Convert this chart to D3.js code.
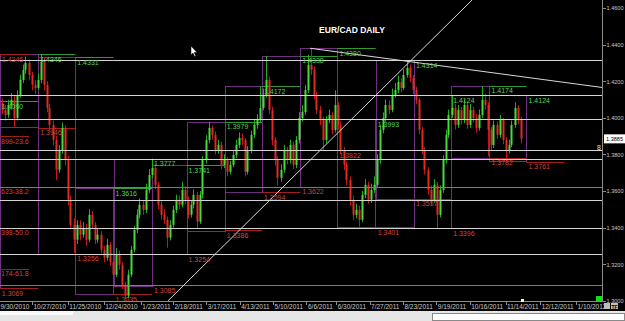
<!DOCTYPE html>
<html>
<head>
<meta charset="utf-8">
<script src="https://cdnjs.cloudflare.com/ajax/libs/d3/7.8.5/d3.min.js"></script>
<style>
  html, body { margin: 0; padding: 0; background: #000; overflow: hidden; }
  svg text { font-family: Arial, "Liberation Sans", sans-serif; }
</style>
</head>
<body>
<svg id="chart" width="625" height="321"></svg>
<script>
/// daily candles (open = previous close)
var firstOpen = 1.4080;
var closes = [
  1.4043, 1.4016, 1.4070, 1.4098, 1.3999, 1.4125, 1.4207, 1.4262, 1.4300, 1.4234,
  1.4180, 1.4163, 1.4207, 1.4306, 1.4180, 1.4054, 1.3961, 1.3879, 1.3716, 1.3824,
  1.3945, 1.3770, 1.3552, 1.3415, 1.3334, 1.3415, 1.3361, 1.3399, 1.3334, 1.3470,
  1.3415, 1.3334, 1.3361, 1.3279, 1.3235, 1.3306, 1.3213, 1.3143, 1.3252, 1.3197,
  1.3088, 1.3028, 1.3143, 1.3279, 1.3388, 1.3470, 1.3525, 1.3497, 1.3606, 1.3688,
  1.3726, 1.3634, 1.3525, 1.3470, 1.3443, 1.3345, 1.3415, 1.3497, 1.3552, 1.3525,
  1.3606, 1.3552, 1.3470, 1.3525, 1.3579, 1.3432, 1.3579, 1.3770, 1.3879, 1.3945,
  1.3907, 1.3824, 1.3852, 1.3743, 1.3770, 1.3705, 1.3743, 1.3797, 1.3852, 1.3890,
  1.3879, 1.3705, 1.3824, 1.3907, 1.3961, 1.3988, 1.4054, 1.4125, 1.4207, 1.4043,
  1.3879, 1.3770, 1.3672, 1.3716, 1.3824, 1.3770, 1.3852, 1.3743, 1.3879, 1.3999,
  1.4032, 1.4152, 1.4289, 1.4262, 1.4125, 1.4043, 1.3988, 1.3879, 1.3988, 1.4016,
  1.3934, 1.4070, 1.3961, 1.3824, 1.3743, 1.3661, 1.3552, 1.3470, 1.3497, 1.3443,
  1.3579, 1.3634, 1.3552, 1.3606, 1.3634, 1.3770, 1.3934, 1.3999, 1.4070, 1.4043,
  1.4125, 1.4152, 1.4196, 1.4163, 1.4234, 1.4273, 1.4218, 1.4152, 1.4098, 1.3934,
  1.3824, 1.3716, 1.3606, 1.3552, 1.3634, 1.3470, 1.3606, 1.3770, 1.3907, 1.4016,
  1.4054, 1.3961, 1.4043, 1.3988, 1.4070, 1.3961, 1.4043, 1.3999, 1.3945, 1.4016,
  1.4098, 1.4070, 1.3934, 1.3852, 1.3961, 1.3907, 1.3988, 1.3879, 1.3824, 1.3852,
  1.3961, 1.4054, 1.3988, 1.3885
];
var highs = [
  1.4105, 1.4070, 1.4098, 1.4135, 1.4120, 1.4150, 1.4235, 1.4290, 1.4335, 1.4318,
  1.4250, 1.4205, 1.4240, 1.4346, 1.4330, 1.4200, 1.4075, 1.3985, 1.3900, 1.3850,
  1.3975, 1.3960, 1.3790, 1.3575, 1.3450, 1.3440, 1.3440, 1.3430, 1.3420, 1.3500,
  1.3490, 1.3430, 1.3395, 1.3380, 1.3300, 1.3340, 1.3320, 1.3230, 1.3290, 1.3275,
  1.3210, 1.3105, 1.3170, 1.3300, 1.3410, 1.3500, 1.3560, 1.3545, 1.3640, 1.3720,
  1.3777, 1.3745, 1.3650, 1.3550, 1.3500, 1.3460, 1.3440, 1.3520, 1.3580, 1.3575,
  1.3650, 1.3625, 1.3570, 1.3550, 1.3610, 1.3595, 1.3600, 1.3790, 1.3905, 1.3979,
  1.3960, 1.3925, 1.3880, 1.3870, 1.3800, 1.3785, 1.3765, 1.3820, 1.3880, 1.3920,
  1.3915, 1.3890, 1.3845, 1.3930, 1.3990, 1.4020, 1.4172, 1.4160, 1.4338, 1.4225,
  1.4060, 1.3895, 1.3790, 1.3745, 1.3850, 1.3840, 1.3880, 1.3870, 1.3900, 1.4030,
  1.4070, 1.4180, 1.4345, 1.4380, 1.4280, 1.4140, 1.4065, 1.4005, 1.4010, 1.4045,
  1.4030, 1.4150, 1.4085, 1.3980, 1.3840, 1.3760, 1.3680, 1.3575, 1.3530, 1.3520,
  1.3600, 1.3665, 1.3650, 1.3640, 1.3680, 1.3800, 1.3960, 1.4030, 1.4100, 1.4095,
  1.4160, 1.4190, 1.4230, 1.4215, 1.4265, 1.4314, 1.4290, 1.4235, 1.4170, 1.4110,
  1.3950, 1.3840, 1.3730, 1.3630, 1.3665, 1.3650, 1.3630, 1.3795, 1.3935, 1.4045,
  1.4124, 1.4075, 1.4070, 1.4060, 1.4100, 1.4085, 1.4075, 1.4060, 1.4020, 1.4045,
  1.4174, 1.4130, 1.4085, 1.3950, 1.3985, 1.3980, 1.4015, 1.4000, 1.3895, 1.3880,
  1.3985, 1.4085, 1.4070, 1.4005
];
var lows = [
  1.4020, 1.3985, 1.4000, 1.4045, 1.3950, 1.3985, 1.4110, 1.4190, 1.4240, 1.4205,
  1.4150, 1.4130, 1.4150, 1.4190, 1.4150, 1.4030, 1.3930, 1.3850, 1.3660, 1.3700,
  1.3805, 1.3740, 1.3520, 1.3390, 1.3262, 1.3310, 1.3330, 1.3345, 1.3300, 1.3320,
  1.3395, 1.3310, 1.3315, 1.3260, 1.3210, 1.3220, 1.3190, 1.3120, 1.3130, 1.3170,
  1.3065, 1.3010, 1.3015, 1.3130, 1.3265, 1.3370, 1.3450, 1.3470, 1.3480, 1.3590,
  1.3670, 1.3610, 1.3500, 1.3445, 1.3420, 1.3290, 1.3330, 1.3400, 1.3480, 1.3500,
  1.3510, 1.3530, 1.3450, 1.3455, 1.3505, 1.3396, 1.3420, 1.3560, 1.3750, 1.3860,
  1.3880, 1.3800, 1.3805, 1.3720, 1.3725, 1.3680, 1.3690, 1.3730, 1.3780, 1.3835,
  1.3850, 1.3680, 1.3690, 1.3805, 1.3890, 1.3940, 1.3970, 1.4040, 1.4110, 1.4020,
  1.3850, 1.3740, 1.3630, 1.3650, 1.3700, 1.3745, 1.3750, 1.3720, 1.3725, 1.3860,
  1.3980, 1.4015, 1.4135, 1.4235, 1.4100, 1.4020, 1.3960, 1.3822, 1.3860, 1.3970,
  1.3910, 1.3920, 1.3935, 1.3800, 1.3715, 1.3630, 1.3520, 1.3440, 1.3450, 1.3405,
  1.3430, 1.3560, 1.3530, 1.3535, 1.3590, 1.3620, 1.3750, 1.3915, 1.3980, 1.4020,
  1.4030, 1.4110, 1.4135, 1.4140, 1.4150, 1.4220, 1.4195, 1.4130, 1.4075, 1.3910,
  1.3800, 1.3690, 1.3580, 1.3520, 1.3535, 1.3396, 1.3455, 1.3590, 1.3750, 1.3890,
  1.4000, 1.3935, 1.3945, 1.3965, 1.3970, 1.3940, 1.3945, 1.3975, 1.3920, 1.3930,
  1.4000, 1.4045, 1.3790, 1.3820, 1.3835, 1.3885, 1.3890, 1.3855, 1.3761, 1.3805,
  1.3840, 1.3945, 1.3965, 1.3860
];

/// monthly ranges (box = month range, lines in next month = previous month high/low)
var monthStarts = ["2010-09-01", "2010-10-01", "2010-11-01", "2010-12-01", "2011-01-01",
                   "2011-02-01", "2011-03-01", "2011-04-01", "2011-05-01", "2011-06-01",
                   "2011-07-01", "2011-08-01", "2011-09-01", "2011-10-01", "2011-11-01",
                   "2011-12-01", "2012-01-01"];
var monthHigh = [1.4090, 1.4346, 1.4331, 1.3616, 1.3777, 1.3741, 1.3979, 1.4172,
                 1.4338, 1.4380, 1.3993, 1.4314, 1.4124, 1.4174, 1.4124];
var monthLow  = [1.3069, 1.3946, 1.3256, 1.3035, 1.3085, 1.3254, 1.3386, 1.3594,
                 1.3622, 1.3822, 1.3401, 1.3557, 1.3396, 1.3782, 1.3761];

/// extra marker at top left
var extraStart = ["2010-10-01"], extraEnd = ["2010-10-25"], extraPrice = [1.4346];

/// support / resistance lines
var srLevels = [1.4314, 1.4124, 1.3993, 1.3822, 1.3776, 1.3552, 1.3396, 1.3256];
var srLevelsDim = [1.3622, 1.3085];

/// fibonacci levels (labels show the tail of the price, as on screen)
var fibPrices = [1.3899, 1.3623, 1.3398, 1.3174];
var fibRatios = ["23.6", "38.2", "50.0", "61.8"];

/// trend lines
var trendFrom = [["2011-02-14", 1.3000], ["2011-06-09", 1.4380]];
var trendTo   = [["2011-10-18", 1.4644], ["2012-02-01", 1.4165]];

/// axes
var dateTicks = ["2010-09-30", "2010-10-27", "2010-11-25", "2010-12-24", "2011-01-23",
                 "2011-02-18", "2011-03-17", "2011-04-13", "2011-05-10", "2011-06-06",
                 "2011-06-30", "2011-07-27", "2011-08-23", "2011-09-19", "2011-10-16",
                 "2011-11-14", "2011-12-12", "2012-01-10"];
var priceTicks = [1.30, 1.32, 1.34, 1.36, 1.38, 1.40, 1.42, 1.44, 1.46];
var lastPrice = 1.3885;
var chartTitle = "EUR/CAD DAILY";

/// setup
var W = 625, H = 321, plotRight = 602, plotBottom = 301;
var parse = d3.timeParse("%Y-%m-%d"),
    fmtDate = d3.timeFormat("%-m/%-d/%Y"),
    fmtPrice = d3.format(".4f");

var svg = d3.select("#chart");
svg.append("rect").attr("width", W).attr("height", H).attr("fill", "#000");

var y = d3.scaleLinear().domain([1.30, 1.46]).range([300.8, 8]);
var xt = d3.scaleTime().domain([parse("2010-10-27"), parse("2012-01-10")]).range([32, 576]);
var xi = d3.scaleLinear().domain([0, closes.length - 1]).range([1.5, 520.5]);

svg.append("clipPath").attr("id", "plotClip")
   .append("rect").attr("x", 0).attr("y", 0).attr("width", plotRight).attr("height", plotBottom);

var plot = svg.append("g").attr("clip-path", "url(#plotClip)");
var px = v => Math.round(v) + 0.5;

// monthly boxes
var boxes = monthHigh.map((h, k) => ({x0: xt(parse(monthStarts[k])), x1: xt(parse(monthStarts[k + 1])),
                                      hi: h, lo: monthLow[k]}));
plot.selectAll(".box").data(boxes).enter().append("rect")
    .attr("class", "box")
    .attr("x", d => px(d.x0)).attr("y", d => px(y(d.hi)))
    .attr("width", d => Math.round(d.x1 - d.x0)).attr("height", d => Math.round(y(d.lo) - y(d.hi)))
    .attr("fill", "none").attr("stroke", "#6e2f7e").attr("stroke-width", 1);

// previous month levels
var levels = [];
monthHigh.forEach((h, k) => {
  var a = xt(parse(monthStarts[k + 1])), b = xt(parse(monthStarts[k + 2]));
  levels.push({x0: a, x1: b, p: h, kind: "hi"});
  levels.push({x0: a, x1: b, p: monthLow[k], kind: "lo"});
});
extraPrice.forEach((p, k) => levels.push({x0: xt(parse(extraStart[k])), x1: xt(parse(extraEnd[k])), p: p, kind: "lo"}));

var lineCol = {hi: "#2f9a2f", lo: "#a01e1e"}, textCol = {hi: "#55d455", lo: "#d6403c"};

plot.selectAll(".lvl").data(levels).enter().append("line")
    .attr("x1", d => d.x0).attr("x2", d => d.x1)
    .attr("y1", d => px(y(d.p))).attr("y2", d => px(y(d.p)))
    .attr("stroke", d => lineCol[d.kind]).attr("stroke-width", 1);

// fib lines
plot.selectAll(".fib").data(fibPrices).enter().append("line")
    .attr("x1", 0).attr("x2", 29)
    .attr("y1", d => px(y(d))).attr("y2", d => px(y(d)))
    .attr("stroke", "#a01e1e");

// candles
var opens = closes.map((c, i) => i ? closes[i - 1] : firstOpen);
var candles = closes.map((c, i) => ({i: i, o: opens[i], c: c, h: highs[i], l: lows[i], up: c >= opens[i]}));

var cg = plot.append("g");
cg.selectAll(".wick").data(candles).enter().append("line")
  .attr("x1", d => px(xi(d.i))).attr("x2", d => px(xi(d.i)))
  .attr("y1", d => y(d.h)).attr("y2", d => y(d.l))
  .attr("stroke", d => d.up ? "#1fae1f" : "#c41818").attr("stroke-width", 1);
cg.selectAll(".body").data(candles).enter().append("rect")
  .attr("x", d => Math.round(xi(d.i)) - 0.5).attr("width", 2)
  .attr("y", d => y(Math.max(d.o, d.c)))
  .attr("height", d => Math.max(1, Math.abs(y(d.o) - y(d.c))))
  .attr("fill", d => d.up ? "#46dc3c" : "#e02a22");

// support / resistance lines (on top of candles)
plot.selectAll(".sr").data(srLevels).enter().append("line")
    .attr("x1", 0).attr("x2", plotRight)
    .attr("y1", d => px(y(d))).attr("y2", d => px(y(d)))
    .attr("stroke", "#d4d4d4").attr("stroke-width", 1);
plot.selectAll(".srd").data(srLevelsDim).enter().append("line")
    .attr("x1", 0).attr("x2", plotRight)
    .attr("y1", d => px(y(d))).attr("y2", d => px(y(d)))
    .attr("stroke", "#7c7c7c").attr("stroke-width", 1);

// trend lines
plot.selectAll(".trend").data(trendFrom).enter().append("line")
    .attr("x1", d => xt(parse(d[0]))).attr("y1", d => y(d[1]))
    .attr("x2", (d, k) => xt(parse(trendTo[k][0]))).attr("y2", (d, k) => y(trendTo[k][1]))
    .attr("stroke", "#d8d8d8").attr("stroke-width", 1);

// level labels
plot.selectAll(".lvlText").data(levels).enter().append("text")
    .attr("x", d => Math.max(1, d.x0 + 2)).attr("y", d => y(d.p) + 7.5)
    .attr("font-size", 7).attr("fill", d => textCol[d.kind])
    .text(d => fmtPrice(d.p));

// fib labels (only the visible tail of the price)
svg.selectAll(".fibText").data(fibPrices).enter().append("text")
    .attr("x", 1).attr("y", d => y(d) + 7.5)
    .attr("font-size", 7).attr("fill", "#d6403c")
    .text((d, k) => fmtPrice(d).slice(3) + "-" + fibRatios[k]);

// title
svg.append("text").attr("x", 352).attr("y", 33).attr("text-anchor", "middle")
   .attr("font-size", 8.5).attr("font-weight", "bold").attr("fill", "#fff")
   .text(chartTitle);

// right price axis
svg.append("line").attr("x1", plotRight + 0.5).attr("x2", plotRight + 0.5)
   .attr("y1", 0).attr("y2", plotBottom + 1).attr("stroke", "#8c8c8c");
var pa = svg.append("g");
pa.selectAll("line").data(priceTicks).enter().append("line")
  .attr("x1", plotRight + 1).attr("x2", plotRight + 4)
  .attr("y1", d => px(y(d))).attr("y2", d => px(y(d))).attr("stroke", "#8c8c8c");
pa.selectAll("text").data(priceTicks).enter().append("text")
  .attr("x", 606.5).attr("y", d => y(d) + 2.3)
  .attr("font-size", 6).attr("fill", "#c8c8c8")
  .attr("textLength", 17).attr("lengthAdjust", "spacingAndGlyphs")
  .text(d => fmtPrice(d));

// last price box
svg.append("rect").attr("x", 604).attr("y", y(lastPrice) - 4.5).attr("width", 21).attr("height", 9).attr("fill", "#fff");
svg.append("text").attr("x", 606).attr("y", y(lastPrice) + 2.3)
   .attr("font-size", 6).attr("fill", "#000")
   .attr("textLength", 17).attr("lengthAdjust", "spacingAndGlyphs")
   .text(fmtPrice(lastPrice));
svg.append("text").attr("x", 597).attr("y", y(lastPrice) + 11)
   .attr("font-size", 7).attr("fill", "#e0e0e0").text("8");

// bottom date axis
svg.append("line").attr("x1", 0).attr("x2", plotRight + 1)
   .attr("y1", plotBottom + 0.5).attr("y2", plotBottom + 0.5).attr("stroke", "#8c8c8c");
var da = svg.append("g");
da.selectAll("line").data(dateTicks).enter().append("line")
  .attr("x1", d => px(xt(parse(d)))).attr("x2", d => px(xt(parse(d))))
  .attr("y1", plotBottom + 1).attr("y2", plotBottom + 4).attr("stroke", "#8c8c8c");
da.selectAll("text").data(dateTicks).enter().append("text")
  .attr("x", d => Math.max(0.5, xt(parse(d)) + 1.5)).attr("y", 309)
  .attr("font-size", 6.5).attr("fill", "#c8c8c8")
  .text(d => fmtDate(parse(d)));

// last bar marker and corner widgets
svg.append("rect").attr("x", Math.round(xi(closes.length - 1))).attr("y", 299)
   .attr("width", 3).attr("height", 3).attr("fill", "#ffff90");
svg.append("rect").attr("x", 596).attr("y", 296).attr("width", 6).attr("height", 6).attr("fill", "#10e010");
svg.append("rect").attr("x", 604).attr("y", 303).attr("width", 6).attr("height", 6).attr("fill", "#bdbdbd");
svg.append("rect").attr("x", 611).attr("y", 303).attr("width", 7).attr("height", 6).attr("fill", "#bdbdbd");
svg.append("text").attr("x", 611.5).attr("y", 308.5).attr("font-size", 5).attr("font-weight", "bold")
   .attr("fill", "#000").text("TF");

// status strip
svg.append("rect").attr("x", 0).attr("y", 311).attr("width", W).attr("height", 10).attr("fill", "#e6e6e6");
svg.append("rect").attr("x", 0).attr("y", 311).attr("width", 73).attr("height", 4).attr("fill", "#fafafa");
svg.append("rect").attr("x", 432.5).attr("y", 313.5).attr("width", 192).attr("height", 7)
   .attr("fill", "#fff").attr("stroke", "#8a8a8a");

// mouse pointer
svg.append("path").attr("d", "M191,46 L191,55 L193,53 L194.6,56.4 L195.8,55.8 L194.3,52.6 L197,52.4 Z")
   .attr("fill", "#fff").attr("stroke", "#000").attr("stroke-width", 0.5);
</script>
</body>
</html>
